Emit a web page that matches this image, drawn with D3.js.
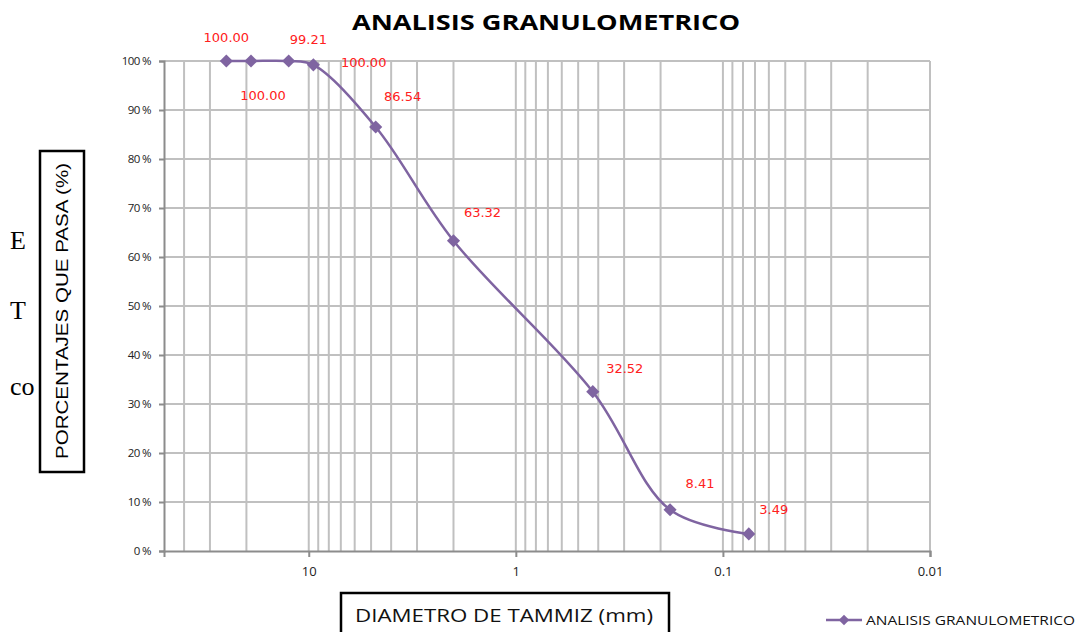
<!DOCTYPE html>
<html lang="es">

<head>
    <meta charset="UTF-8">
    <title>Analisis granulometrico</title>
    <script src="https://cdnjs.cloudflare.com/ajax/libs/d3/7.8.5/d3.min.js"></script>
    <style>
        * {
            margin: 0;
            padding: 0;
        }

        body {
            background: #fff;
            overflow: hidden;
        }
    </style>
</head>

<body>
    <svg id="chart" width="1082" height="632"></svg>

    <script>
        // datos del ensayo (abertura del tamiz en mm, % que pasa)
        const diametros = [25, 19, 12.5, 9.5, 4.75, 2.0, 0.425, 0.18, 0.075];
        const pasa = [100.00, 100.00, 100.00, 99.21, 86.54, 63.32, 32.52, 8.41, 3.49];
        const xTicks = [10, 1, 0.1, 0.01];
        const yTicks = [0, 10, 20, 30, 40, 50, 60, 70, 80, 90, 100];
        // desplazamiento de cada etiqueta respecto a su punto
        const labelDx = [0, 12, 75, -5, 27, 29, 32, 30, 25];
        const labelDy = [-24, 34, 1, -26, -31, -29, -24, -27, -25];

        const svg = d3.select("#chart");
        const purple = "#7f64a1";
        const calibri = "'Open Sans', 'Liberation Sans', sans-serif";

        const x = d3.scaleLog().domain([50, 0.01]).range([164, 930]);
        const y = d3.scaleLinear().domain([0, 100]).range([551, 61]);

        // texto del documento detrás del gráfico (cortado por el gráfico)
        svg.append("clipPath")
            .attr("id", "doc-clip")
            .append("rect")
            .attr("x", 0).attr("y", 0)
            .attr("width", 37).attr("height", 632);

        svg.append("g")
            .attr("clip-path", "url(#doc-clip)")
            .attr("font-family", "'Liberation Serif', 'DejaVu Serif', serif")
            .attr("font-size", 26)
            .selectAll("text")
            .data([["E", 249], ["T", 319], ["co", 395]])
            .join("text")
            .attr("x", 10)
            .attr("y", d => d[1])
            .text(d => d[0]);

        // título
        svg.append("text")
            .attr("x", 546)
            .attr("y", 30)
            .attr("text-anchor", "middle")
            .attr("font-family", calibri)
            .attr("font-weight", "bold")
            .attr("font-size", 22)
            .attr("textLength", 388)
            .attr("lengthAdjust", "spacingAndGlyphs")
            .text("ANALISIS GRANULOMETRICO");

        // rejilla vertical: mayores y menores de la escala log
        const minor = [];
        for (let e = -2; e <= 1; e++) {
            for (let k = 1; k <= 9; k++) {
                const v = k * Math.pow(10, e);
                if (v > 0.01 && v < 50) minor.push(v);
            }
        }

        const grid = svg.append("g")
            .attr("stroke", "#c0c0c0")
            .attr("stroke-width", 2);

        grid.selectAll(".gx")
            .data(minor)
            .join("line")
            .attr("x1", d => x(d))
            .attr("x2", d => x(d))
            .attr("y1", y(100))
            .attr("y2", y(0));

        grid.selectAll(".gy")
            .data(yTicks.filter(d => d > 0))
            .join("line")
            .attr("x1", x(50))
            .attr("x2", x(0.01))
            .attr("y1", d => y(d))
            .attr("y2", d => y(d));

        grid.append("line")
            .attr("x1", x(0.01)).attr("x2", x(0.01))
            .attr("y1", y(100)).attr("y2", y(0));

        // ejes
        const yAxis = svg.append("g")
            .attr("transform", `translate(${x(50)},0)`)
            .call(d3.axisLeft(y).tickValues(yTicks).tickSize(5).tickPadding(8)
                .tickFormat(d => d + " %"));

        const xAxis = svg.append("g")
            .attr("transform", `translate(0,${y(0)})`)
            .call(d3.axisBottom(x).tickValues(xTicks).tickSize(6).tickPadding(10)
                .tickFormat(d => d3.format("~g")(d)));

        [yAxis, xAxis].forEach(a => {
            a.select(".domain").attr("stroke", "#8c8c8c").attr("stroke-width", 2);
            a.selectAll(".tick line").attr("stroke", "#8c8c8c").attr("stroke-width", 2);
            a.selectAll("text")
                .attr("fill", "#222")
                .attr("font-family", calibri);
        });
        yAxis.selectAll("text").attr("font-size", 11.5).attr("letter-spacing", -0.6);
        xAxis.selectAll("text").attr("font-size", 13);

        // curva
        const pts = diametros.map((d, i) => ({ d: d, p: pasa[i], i: i }));

        const line = d3.line()
            .x(d => x(d.d))
            .y(d => y(d.p))
            .curve(d3.curveCatmullRom.alpha(0.5));

        svg.append("path")
            .datum(pts)
            .attr("d", line)
            .attr("fill", "none")
            .attr("stroke", purple)
            .attr("stroke-width", 2.5);

        const diamond = d3.symbol().type(d3.symbolDiamond2).size(110);

        svg.selectAll(".marker")
            .data(pts)
            .join("path")
            .attr("class", "marker")
            .attr("transform", d => `translate(${x(d.d)},${y(d.p)})`)
            .attr("d", diamond)
            .attr("fill", purple);

        svg.selectAll(".lbl")
            .data(pts)
            .join("text")
            .attr("class", "lbl")
            .attr("x", d => x(d.d) + labelDx[d.i])
            .attr("y", d => y(d.p) + labelDy[d.i] + 5)
            .attr("text-anchor", "middle")
            .attr("font-family", "'DejaVu Sans', sans-serif")
            .attr("font-size", 13)
            .attr("fill", "#ff2020")
            .text(d => d.p.toFixed(2));

        // título eje Y
        svg.append("rect")
            .attr("x", 40).attr("y", 151)
            .attr("width", 44).attr("height", 321)
            .attr("fill", "#fff")
            .attr("stroke", "#000")
            .attr("stroke-width", 2.5);

        svg.append("text")
            .attr("transform", "translate(68,311) rotate(-90)")
            .attr("text-anchor", "middle")
            .attr("font-family", "'Liberation Sans', Arial, sans-serif")
            .attr("font-size", 17)
            .attr("textLength", 296)
            .attr("lengthAdjust", "spacingAndGlyphs")
            .text("PORCENTAJES QUE PASA (%)");

        // título eje X
        svg.append("rect")
            .attr("x", 341).attr("y", 593)
            .attr("width", 328).attr("height", 50)
            .attr("fill", "#fff")
            .attr("stroke", "#000")
            .attr("stroke-width", 2.5);

        svg.append("text")
            .attr("x", 504)
            .attr("y", 622)
            .attr("text-anchor", "middle")
            .attr("font-family", calibri)
            .attr("font-size", 18)
            .attr("textLength", 298)
            .attr("lengthAdjust", "spacingAndGlyphs")
            .attr("fill", "#111")
            .text("DIAMETRO DE TAMMIZ (mm)");

        // leyenda
        const legend = svg.append("g").attr("transform", "translate(826,620)");
        legend.append("line")
            .attr("x1", 0).attr("x2", 36)
            .attr("stroke", purple).attr("stroke-width", 2.5);
        legend.append("path")
            .attr("transform", "translate(18,0)")
            .attr("d", d3.symbol().type(d3.symbolDiamond2).size(70))
            .attr("fill", purple);
        legend.append("text")
            .attr("x", 40)
            .attr("y", 5)
            .attr("font-family", calibri)
            .attr("font-size", 13)
            .attr("textLength", 209)
            .attr("lengthAdjust", "spacingAndGlyphs")
            .attr("fill", "#111")
            .text("ANALISIS GRANULOMETRICO");
    </script>
</body>

</html>
